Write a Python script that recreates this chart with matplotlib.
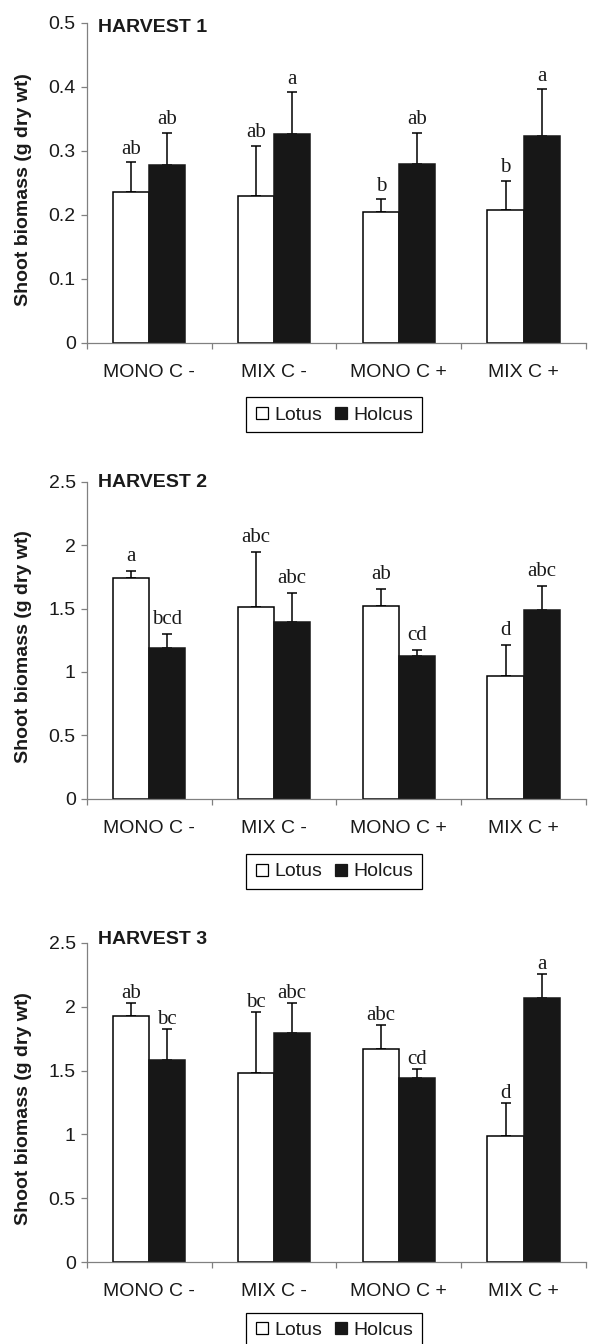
import numpy as np
import matplotlib.pyplot as plt
from matplotlib.lines import Line2D

plt.rcParams['font.family'] = ['Liberation Sans', 'DejaVu Sans']

treatments = ['MONO C -', 'MIX C -', 'MONO C +', 'MIX C +']

# Harvest 1 - shoot biomass means, SE and significance letters
h1_lotus = [0.236, 0.230, 0.204, 0.207]
h1_lotus_se = [0.046, 0.078, 0.020, 0.046]
h1_holcus = [0.277, 0.326, 0.279, 0.323]
h1_holcus_se = [0.051, 0.065, 0.049, 0.073]
h1_lotus_let = ['ab', 'ab', 'b', 'b']
h1_holcus_let = ['ab', 'a', 'ab', 'a']

# Harvest 2
h2_lotus = [1.74, 1.51, 1.52, 0.965]
h2_lotus_se = [0.053, 0.435, 0.132, 0.25]
h2_holcus = [1.19, 1.39, 1.126, 1.49]
h2_holcus_se = [0.113, 0.229, 0.045, 0.186]
h2_lotus_let = ['a', 'abc', 'ab', 'd']
h2_holcus_let = ['bcd', 'abc', 'cd', 'abc']

# Harvest 3
h3_lotus = [1.93, 1.48, 1.67, 0.986]
h3_lotus_se = [0.10, 0.48, 0.186, 0.262]
h3_holcus = [1.58, 1.79, 1.44, 2.07]
h3_holcus_se = [0.246, 0.241, 0.071, 0.185]
h3_lotus_let = ['ab', 'bc', 'abc', 'd']
h3_holcus_let = ['bc', 'abc', 'cd', 'a']

panels = [
    ('HARVEST 1', h1_lotus, h1_lotus_se, h1_holcus, h1_holcus_se, h1_lotus_let, h1_holcus_let,
     0.5, [0, 0.1, 0.2, 0.3, 0.4, 0.5], ['0', '0.1', '0.2', '0.3', '0.4', '0.5']),
    ('HARVEST 2', h2_lotus, h2_lotus_se, h2_holcus, h2_holcus_se, h2_lotus_let, h2_holcus_let,
     2.5, [0, 0.5, 1, 1.5, 2, 2.5], ['0', '0.5', '1', '1.5', '2', '2.5']),
    ('HARVEST 3', h3_lotus, h3_lotus_se, h3_holcus, h3_holcus_se, h3_lotus_let, h3_holcus_let,
     2.5, [0, 0.5, 1, 1.5, 2, 2.5], ['0', '0.5', '1', '1.5', '2', '2.5']),
]

W, H = 589, 1344
fig = plt.figure(figsize=(W / 100, H / 100), dpi=100)

# axes boxes in pixels: (top, bottom); left/right shared
ax_px = [(22.7, 342.7), (481.7, 798.8), (942.7, 1262.2)]
left_px, right_px = 86.8, 586
title_base_px = [31.7, 486.7, 944.0]
legend_top_px = [397.3, 854.0, 1312.7]
letter_gap_px = [8.5, 10, 5]

black = '#171717'
grey = '#808080'
w = 0.29
centers = np.arange(4) + 0.5

for i, (title, lot, lot_se, hol, hol_se, lot_let, hol_let, ymax, yt, ytl) in enumerate(panels):
    top, bot = ax_px[i]
    ax = fig.add_axes([left_px / W, 1 - bot / H, (right_px - left_px) / W, (bot - top) / H])

    ax.bar(centers - w, lot, width=w, align='edge', color='white', edgecolor='black', linewidth=1.1, zorder=2)
    ax.bar(centers, hol, width=w, align='edge', color=black, edgecolor=black, linewidth=1.1, zorder=2)
    ax.errorbar(centers - w / 2, lot, yerr=[np.zeros(4), lot_se], fmt='none', ecolor='black',
                elinewidth=1.1, capsize=3.6, capthick=1.1, zorder=1)
    ax.errorbar(centers + w / 2, hol, yerr=[np.zeros(4), hol_se], fmt='none', ecolor='black',
                elinewidth=1.1, capsize=3.6, capthick=1.1, zorder=1)

    gap = letter_gap_px[i] * 72 / 100
    for j in range(4):
        ax.annotate(lot_let[j], (centers[j] - w / 2, lot[j] + lot_se[j]), xytext=(0, gap),
                    textcoords='offset points', ha='center', va='baseline',
                    fontsize=15, family='Liberation Serif', color='#1a1a1a')
        ax.annotate(hol_let[j], (centers[j] + w / 2, hol[j] + hol_se[j]), xytext=(0, gap),
                    textcoords='offset points', ha='center', va='baseline',
                    fontsize=15, family='Liberation Serif', color='#1a1a1a')

    ax.set_xlim(0, 4)
    ax.set_ylim(0, ymax)
    ax.set_yticks(yt)
    ax.set_yticklabels(ytl)
    ax.set_xticks(np.arange(5))
    ax.set_xticklabels([])
    ax.set_xticks(centers, minor=True)
    ax.set_xticklabels(treatments, minor=True)

    for s in ['top', 'right']:
        ax.spines[s].set_visible(False)
    for s in ['left', 'bottom']:
        ax.spines[s].set_color(grey)
        ax.spines[s].set_linewidth(0.9)
    ax.tick_params(axis='y', direction='out', length=4.3, width=0.9, color=grey, pad=3.6,
                   labelsize=14, labelcolor='#1a1a1a')
    ax.tick_params(axis='x', which='major', direction='out', length=4.5, width=0.9, color=grey)
    ax.tick_params(axis='x', which='minor', length=0, pad=15, labelsize=14, labelcolor='#1a1a1a')

    ax.set_ylabel('Shoot biomass (g dry wt)', fontsize=14, fontweight='bold', color='#1a1a1a')
    ax.yaxis.set_label_coords(-0.110, 0.48)

    ty = 1 - (title_base_px[i] - top) / (bot - top)
    ax.text(0.0225, ty, title, transform=ax.transAxes, fontsize=14, fontweight='bold',
            ha='left', va='baseline', color='#1a1a1a')

    handles = [
        Line2D([], [], marker='s', linestyle='none', markerfacecolor='white',
               markeredgecolor='black', markersize=8.5, markeredgewidth=0.9),
        Line2D([], [], marker='s', linestyle='none', markerfacecolor=black,
               markeredgecolor=black, markersize=8.5, markeredgewidth=0.9),
    ]
    leg = fig.legend(handles, ['Lotus', 'Holcus'], loc='upper center',
                     bbox_to_anchor=(334 / W, 1 - legend_top_px[i] / H), bbox_transform=fig.transFigure,
                     ncol=2, fontsize=14, frameon=True, fancybox=False, edgecolor='black',
                     framealpha=1, handlelength=0.7, handletextpad=0.3, columnspacing=0.6,
                     borderpad=0.45, borderaxespad=0)
    leg.get_frame().set_linewidth(0.9)
    for t in leg.get_texts():
        t.set_color('#1a1a1a')

fig.savefig('out.png', dpi=100)
